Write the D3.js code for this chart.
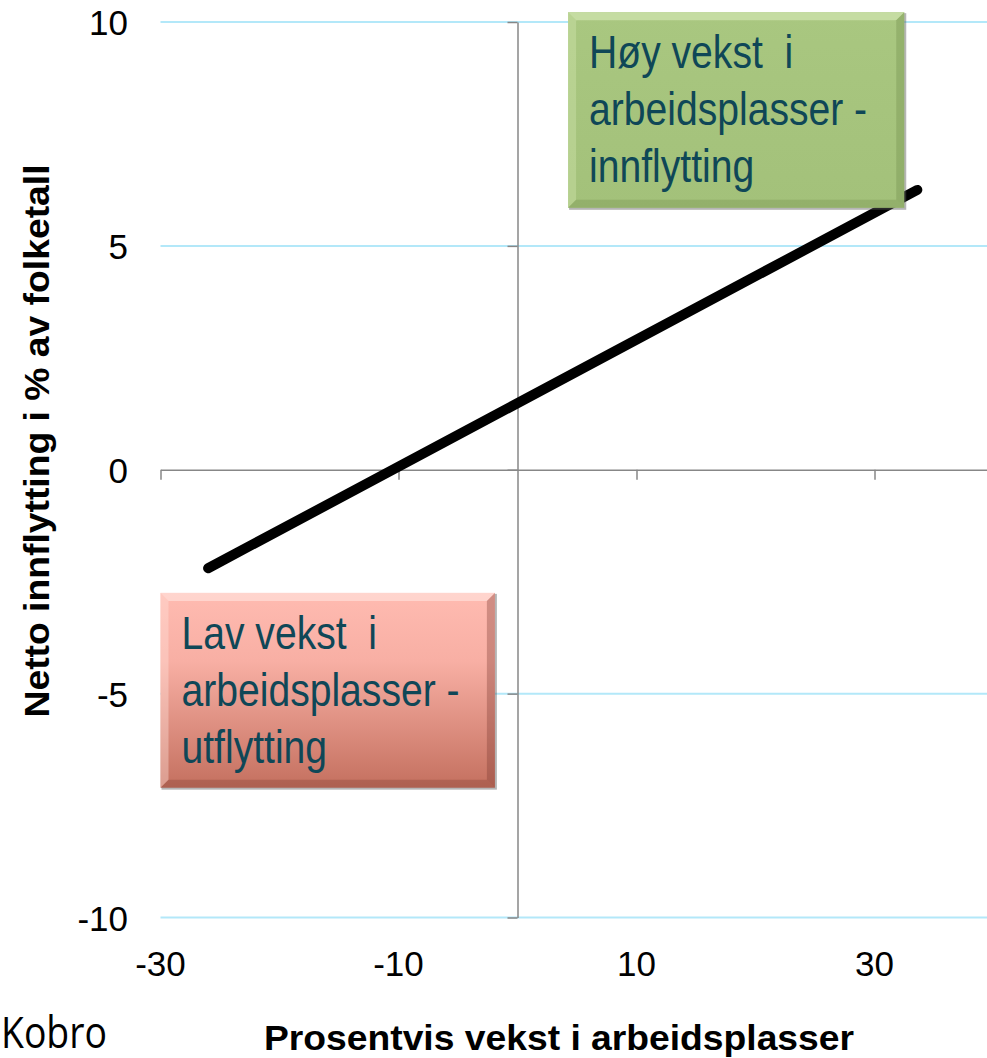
<!DOCTYPE html>
<html>
<head>
<meta charset="utf-8">
<script src="https://cdn.jsdelivr.net/npm/d3@7"></script>
<style>
  html, body { margin: 0; padding: 0; background: #fff; }
  svg { display: block; font-family: "Liberation Sans", Arial, sans-serif; }
  text { white-space: pre; }
</style>
</head>
<body>
<div id="chart"></div>
<script>
// values
const xTicks = [-30, -10, 10, 30];
const yTicks = [-10, -5, 0, 5, 10];
const trendX = [-26, 33.6];
const trendY = [-2.2, 6.25];
const xTitle = "Prosentvis vekst i arbeidsplasser";
const yTitle = "Netto innflytting i % av folketall";
const highLines = ["Høy vekst  i", "arbeidsplasser -", "innflytting"];
const lowLines = ["Lav vekst  i", "arbeidsplasser -", "utflytting"];
const credit = "Kobro";

const width = 987, height = 1058;

const svg = d3.select("#chart").append("svg")
  .attr("width", width)
  .attr("height", height);

const x = d3.scaleLinear().domain([-30, 40]).range([160.5, 993.5]);
const y = d3.scaleLinear().domain([-10, 10]).range([917.5, 22]);

const defs = svg.append("defs");
const pinkGrad = defs.append("linearGradient")
  .attr("id", "pinkGrad").attr("x1", 0).attr("y1", 0).attr("x2", 0).attr("y2", 1);
pinkGrad.append("stop").attr("offset", "0%").attr("stop-color", "#ffbbb1");
pinkGrad.append("stop").attr("offset", "35%").attr("stop-color", "#f8afa4");
pinkGrad.append("stop").attr("offset", "100%").attr("stop-color", "#c4705f");

const greenGrad = defs.append("linearGradient")
  .attr("id", "greenGrad").attr("x1", 0).attr("y1", 0).attr("x2", 0).attr("y2", 1);
greenGrad.append("stop").attr("offset", "0%").attr("stop-color", "#a9c780");
greenGrad.append("stop").attr("offset", "100%").attr("stop-color", "#a3c17a");

// gridlines (zero is covered by the axis)
svg.append("g")
  .selectAll("line")
  .data(yTicks.filter(d => d !== 0))
  .join("line")
  .attr("x1", x(-30)).attr("x2", x(40))
  .attr("y1", d => y(d)).attr("y2", d => y(d))
  .attr("stroke", "#b3e8f9")
  .attr("stroke-width", 2);

// x axis through y = 0, ticks pointing down
const xAxisG = svg.append("g")
  .attr("transform", `translate(0,${y(0)})`)
  .call(d3.axisBottom(x).tickValues(xTicks).tickSize(10).tickSizeOuter(0).tickFormat(""));

// y axis through x = 0, ticks pointing left
const yAxisG = svg.append("g")
  .attr("transform", `translate(${x(0)},0)`)
  .call(d3.axisLeft(y).tickValues(yTicks).tickSize(10).tickSizeOuter(0).tickFormat(""));

[xAxisG, yAxisG].forEach(g => {
  g.selectAll("path, line").attr("stroke", "#878787").attr("stroke-width", 1.5);
});

// tick labels sit at the chart's edges, not on the axes
svg.append("g")
  .selectAll("text")
  .data(yTicks)
  .join("text")
  .attr("x", 128)
  .attr("y", d => y(d) + 13)
  .attr("text-anchor", "end")
  .attr("font-size", 35)
  .attr("fill", "#000")
  .text(d => d);

svg.append("g")
  .selectAll("text")
  .data(xTicks)
  .join("text")
  .attr("x", d => x(d))
  .attr("y", 976)
  .attr("text-anchor", "middle")
  .attr("font-size", 35)
  .attr("fill", "#000")
  .text(d => d);

// axis titles
svg.append("text")
  .attr("x", 559)
  .attr("y", 1050)
  .attr("text-anchor", "middle")
  .attr("font-size", 35)
  .attr("font-weight", "bold")
  .attr("textLength", 590)
  .attr("lengthAdjust", "spacingAndGlyphs")
  .text(xTitle);

svg.append("text")
  .attr("transform", "translate(49,441) rotate(-90)")
  .attr("text-anchor", "middle")
  .attr("font-size", 35)
  .attr("font-weight", "bold")
  .attr("textLength", 553)
  .attr("lengthAdjust", "spacingAndGlyphs")
  .text(yTitle);

svg.append("text")
  .attr("x", 1)
  .attr("y", 1048)
  .attr("font-family", "'Open Sans', sans-serif")
  .attr("font-size", 44)
  .attr("textLength", 106)
  .attr("lengthAdjust", "spacingAndGlyphs")
  .attr("fill", "#000")
  .text(credit);

// trend line
const trend = trendX.map((v, i) => [v, trendY[i]]);
svg.append("path")
  .datum(trend)
  .attr("d", d3.line().x(d => x(d[0])).y(d => y(d[1])))
  .attr("fill", "none")
  .attr("stroke", "#000")
  .attr("stroke-width", 10)
  .attr("stroke-linecap", "round");

// bevelled annotation boxes
function bevelBox(x0, y0, x1, y1, fill, light, dark, lines) {
  const g = svg.append("g");
  const b = 8;
  const w = x1 - x0, h = y1 - y0;
  g.append("rect")
    .attr("x", x0 + 1).attr("y", y0 + 1).attr("width", w + 1).attr("height", h + 1)
    .attr("fill", "#5a5a5a").attr("opacity", 0.45);
  g.append("rect")
    .attr("x", x0).attr("y", y0).attr("width", w).attr("height", h)
    .attr("fill", fill);
  const faces = [
    { pts: [[x0, y0], [x1, y0], [x1 - b, y0 + b], [x0 + b, y0 + b]], c: light, o: 0.7 },
    { pts: [[x0, y0], [x0 + b, y0 + b], [x0 + b, y1 - b], [x0, y1]], c: light, o: 0.4 },
    { pts: [[x0, y1], [x0 + b, y1 - b], [x1 - b, y1 - b], [x1, y1]], c: dark, o: 0.3 },
    { pts: [[x1, y0], [x1, y1], [x1 - b, y1 - b], [x1 - b, y0 + b]], c: dark, o: 0.35 }
  ];
  g.selectAll("polygon.face")
    .data(faces)
    .join("polygon")
    .attr("class", "face")
    .attr("points", d => d.pts.map(p => p.join(",")).join(" "))
    .attr("fill", d => d.c)
    .attr("opacity", d => d.o);
  g.append("g")
    .attr("transform", `translate(${x0 + 21},0) scale(0.85,1)`)
    .selectAll("text")
    .data(lines)
    .join("text")
    .attr("x", 0)
    .attr("y", (d, i) => y0 + 56 + i * 57)
    .attr("font-size", 46)
    .attr("fill", "#0f4757")
    .text(d => d);
}

bevelBox(x(4.25), y(10.22), x(32.5), y(5.85),
  "url(#greenGrad)", "#d2e6b0", "#6f8c4a", highLines);
bevelBox(x(-30), y(-2.75), x(-1.9), y(-7.1),
  "url(#pinkGrad)", "#ffe0da", "#7a3a30", lowLines);
</script>
</body>
</html>
